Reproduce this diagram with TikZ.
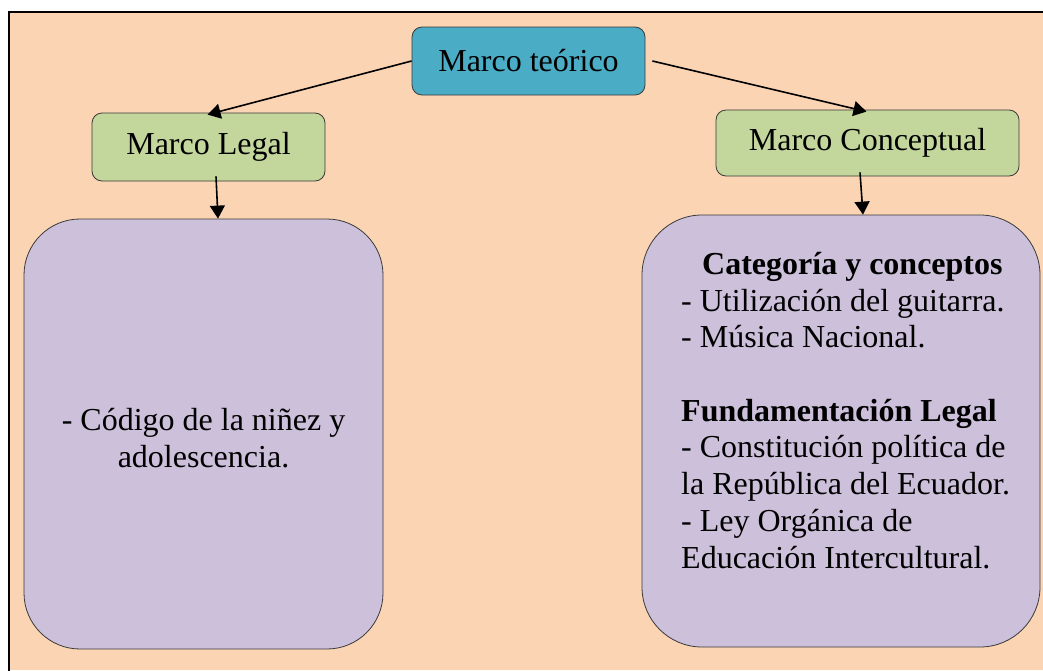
\documentclass[tikz,border=0pt]{standalone}
\usepackage{fontspec}
\setmainfont{Liberation Serif}
\usetikzlibrary{arrows.meta}
\definecolor{peach}{HTML}{FBD4B4}
\definecolor{tealbox}{HTML}{4BACC6}
\definecolor{greenbox}{HTML}{C3D69B}
\definecolor{lavbox}{HTML}{CCC0DA}
\definecolor{edge}{HTML}{3A3A3A}
\tikzset{
  txt/.style={font=\fontsize{32}{36.7}\selectfont},
  smallbox/.style={draw=edge, line width=0.8pt, rounded corners=10pt, inner sep=0pt, txt},
  bigbox/.style={draw=edge, line width=0.8pt, rounded corners=56pt, fill=lavbox, inner sep=0pt},
  arr/.style={line width=1.6pt, -{Triangle[length=13pt,width=15pt]}}
}
\begin{document}
\begin{tikzpicture}[x=1pt,y=-1pt]
\useasboundingbox (0,0) rectangle (1043,670);
\fill[white] (0,0) rectangle (1043,670);
\fill[peach] (9,12) rectangle (1043,670);
\draw[line width=2.6pt, line cap=rect] (9,670) -- (9,12) -- (1043,12);

\node[smallbox, fill=tealbox, minimum width=233pt, minimum height=68pt] (top) at (528.5,61) {Marco teórico};
\node[smallbox, fill=greenbox, minimum width=233pt, minimum height=68pt] (legal) at (208.5,147) {Marco Legal};
\node[smallbox, fill=greenbox, minimum width=303pt, minimum height=66pt] (concept) at (867.5,143) {Marco Conceptual};

\node[bigbox, minimum width=359pt, minimum height=430pt] (leftbox) at (203.5,434) {};
\node[txt, align=center, inner sep=0pt] (lefttext) at (203.5,438) {- Código de la niñez y\\adolescencia.};
\node[bigbox, rounded corners=60pt, minimum width=398pt, minimum height=432pt] (rightbox) at (841,431) {};
\node[txt, align=left, anchor=north west, inner sep=0pt] (righttext) at (681,252)
 {\hspace*{21pt}\textbf{Categoría y conceptos}\\
  - Utilización del guitarra.\\
  - Música Nacional.\\[36.7pt]
  \textbf{Fundamentación Legal}\\
  - Constitución política de\\
  la República del Ecuador.\\
  - Ley Orgánica de\\
  Educación Intercultural.};

\draw[arr] (top.west) -- ([xshift=-1pt,yshift=-2pt]legal.north);
\draw[arr] ([xshift=7pt]top.east) -- ([xshift=-1pt,yshift=-2pt]concept.north);
\draw[arr] ([xshift=7.5pt,yshift=5pt]legal.south) -- ([xshift=14.5pt]leftbox.north);
\draw[arr] ([xshift=-7.5pt,yshift=4pt]concept.south) -- ([xshift=22pt]rightbox.north);
\end{tikzpicture}
\end{document}
